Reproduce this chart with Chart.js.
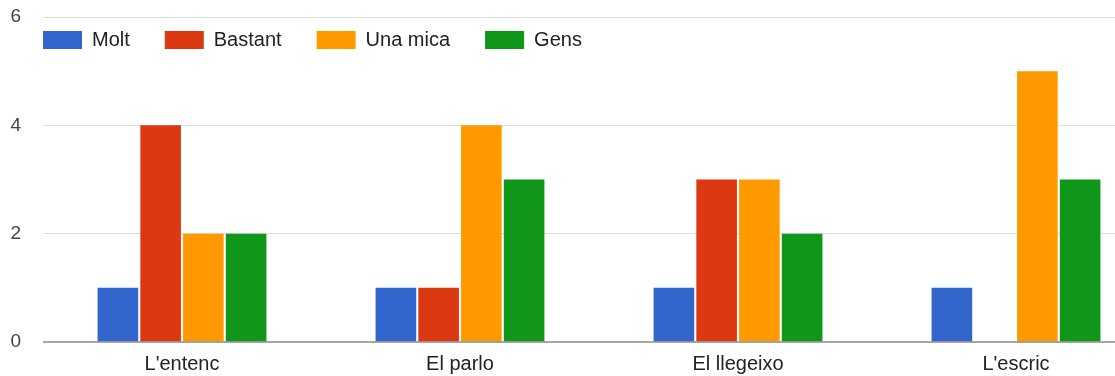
<!DOCTYPE html>
<html>
<head>
<meta charset="utf-8">
<script src="https://cdn.jsdelivr.net/npm/chart.js@4/dist/chart.umd.min.js"></script>
<style>
  html, body { margin: 0; padding: 0; background: #fff; overflow: hidden; }
  #wrap { width: 1155px; height: 376px; position: relative; }
</style>
</head>
<body>
<div id="wrap"><canvas id="c"></canvas></div>
<script>
// Categories and series
const categories = ["L'entenc", "El parlo", "El llegeixo", "L'escric"];
const seriesNames = ["Molt", "Bastant", "Una mica", "Gens"];
const molt     = [1, 1, 1, 1];
const bastant  = [4, 1, 3, 0];
const unaMica  = [2, 4, 3, 5];
const gens     = [2, 3, 2, 3];
const yTicks   = [0, 2, 4, 6];

const colors = ["#3366cc", "#dc3912", "#ff9900", "#109618"];
const FONT = "'Liberation Sans', Arial, sans-serif";

const seriesValues = [molt, bastant, unaMica, gens];

// Legend drawn inside the plot area, top-left
const insideLegend = {
  id: 'insideLegend',
  afterDraw(chart) {
    const ctx = chart.ctx;
    ctx.save();
    ctx.font = "20px " + FONT;
    ctx.textBaseline = 'middle';
    let x = 43;
    const yMid = 40;
    chart.data.datasets.forEach(ds => {
      ctx.fillStyle = ds.backgroundColor;
      ctx.fillRect(x, 31, 39, 18);
      x += 39 + 10;
      ctx.fillStyle = '#222';
      ctx.fillText(ds.label, x, yMid);
      x += ctx.measureText(ds.label).width + 35;
    });
    ctx.restore();
  }
};

// Baseline at zero, drawn on top of the bars
const baseline = {
  id: 'baseline',
  afterDatasetsDraw(chart) {
    const { ctx, chartArea } = chart;
    const y = chart.scales.y.getPixelForValue(0);
    ctx.save();
    ctx.strokeStyle = '#888';
    ctx.lineWidth = 1.5;
    ctx.beginPath();
    ctx.moveTo(chartArea.left, y);
    ctx.lineTo(chartArea.right, y);
    ctx.stroke();
    ctx.restore();
  }
};

new Chart(document.getElementById('c'), {
  type: 'bar',
  data: {
    labels: categories,
    datasets: seriesNames.map((name, i) => ({
      label: name,
      data: seriesValues[i],
      backgroundColor: colors[i],
      borderWidth: 0,
      categoryPercentage: 0.615,
      barPercentage: 0.95
    }))
  },
  options: {
    responsive: true,
    maintainAspectRatio: false,
    animation: false,
    layout: { padding: { top: 17, left: 0, right: 0, bottom: 0 } },
    plugins: {
      legend: { display: false },
      tooltip: { enabled: false }
    },
    scales: {
      x: {
        grid: { display: false, drawTicks: false },
        border: { display: false },
        ticks: {
          color: '#222',
          font: { family: FONT, size: 20 },
          padding: 10,
          maxRotation: 0
        },
        afterFit(scale) {
          scale.height = 34;
          scale.paddingLeft = 0;
          scale.paddingRight = 0;
        }
      },
      y: {
        min: 0,
        max: 6,
        afterBuildTicks(scale) { scale.ticks = yTicks.map(v => ({ value: v })); },
        grid: {
          drawTicks: false,
          color: ctx => (ctx.tick && ctx.tick.value === 0) ? 'rgba(0,0,0,0)' : '#dcdcdc',
          lineWidth: 1
        },
        border: { display: false },
        ticks: {
          color: '#444',
          font: { family: FONT, size: 19 },
          padding: 22
        },
        afterFit(scale) {
          scale.width = 43;
          scale.paddingTop = 0;
          scale.paddingBottom = 0;
        }
      }
    }
  },
  plugins: [insideLegend, baseline]
});
</script>
</body>
</html>
